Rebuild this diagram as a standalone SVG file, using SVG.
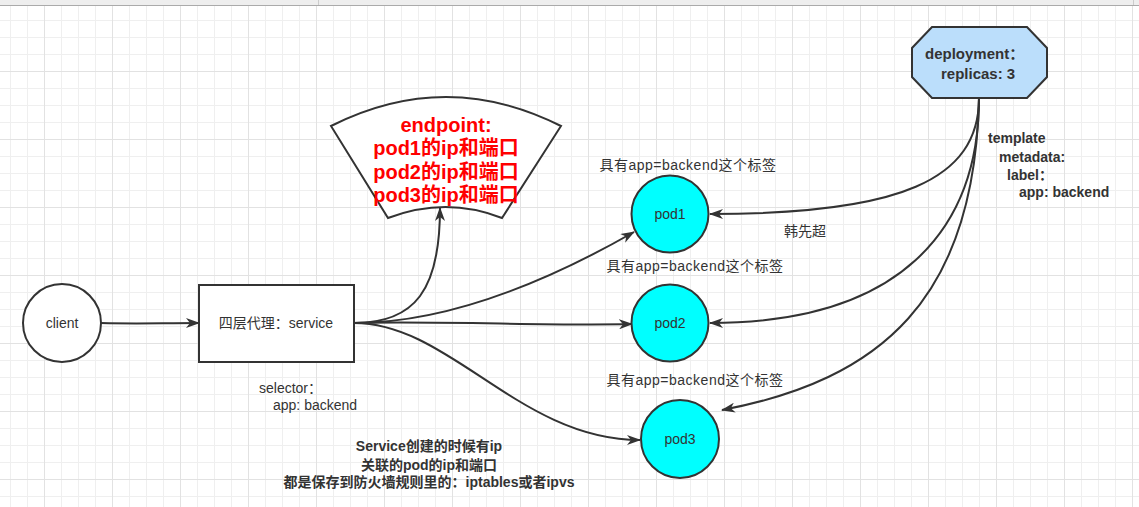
<svg xmlns="http://www.w3.org/2000/svg" width="1139" height="507" viewBox="0 0 1139 507">
<defs>
<pattern id="grid" x="44" y="3" width="68" height="68" patternUnits="userSpaceOnUse">
<path d="M17.5 0V68M34.5 0V68M51.5 0V68M0 17.5H68M0 34.5H68M0 51.5H68" stroke="#efefef" stroke-width="1" fill="none"/>
<path d="M0.5 0V68M0 0.5H68" stroke="#e2e2e2" stroke-width="1" fill="none"/>
</pattern>
<marker id="arr" viewBox="0 0 14 10" refX="13" refY="5" markerWidth="14" markerHeight="10" markerUnits="userSpaceOnUse" orient="auto">
<path d="M0 0L14 5L0 10L4 5z" fill="#333"/>
</marker>
</defs>
<style>
.t{font-family:"Liberation Sans","Noto Sans CJK SC",sans-serif;font-size:14px;fill:#333;dominant-baseline:central}
.b{font-weight:bold}
.c{text-anchor:middle}
.lbl{letter-spacing:0.5px}
.red{fill:#ff0000;font-size:20px;font-weight:bold}
.node{stroke:#333;stroke-width:2}
.pod{fill:#00ffff}
.edge{fill:none;stroke:#333;stroke-width:2;marker-end:url(#arr)}
</style>
<rect width="1139" height="507" fill="#fff"/>
<rect width="1139" height="507" fill="url(#grid)"/>
<rect x="0" y="0" width="1139" height="5" fill="#eeeeee"/>
<line x1="0" y1="5.5" x2="1139" y2="5.5" stroke="#aaa"/>
<line x1="318.5" y1="0" x2="318.5" y2="5" stroke="#ccc"/>
<line x1="1133.5" y1="0" x2="1133.5" y2="5" stroke="#ccc"/>

<g id="connectors">
<path class="edge" d="M101 323C140 324 160 323 199 323"/>
<path class="edge" d="M354 323C415 323 440 290 440 208"/>
<path class="edge" d="M354 323C450 323 550 280 634 232"/>
<path class="edge" d="M354 323C450 321 550 326 632 324"/>
<path class="edge" d="M354 323C450 323 520 440 640 440"/>
<path class="edge" d="M979 98C979 180 900 214 710 214"/>
<path class="edge" d="M979 98C979 230 900 323 710 323"/>
<path class="edge" d="M979 98C975 300 880 380 722 410"/>
</g>

<g id="client">
<circle class="node" cx="62" cy="323" r="39" fill="#fff"/>
<text class="t c" x="62" y="323">client</text>
</g>

<g id="service">
<rect class="node" x="199" y="285" width="155" height="77" fill="#fff"/>
<text class="t c" x="276" y="323">四层代理：service</text>
</g>

<g id="selector">
<text class="t" x="259" y="388">selector：</text>
<text class="t" x="273" y="405">app: backend</text>
</g>

<g id="endpoint">
<path class="node" d="M331 126Q446 68 561 126L502 218Q446 196 388 218Z" fill="#fff"/>
<text class="t c red" x="446" y="125">endpoint:</text>
<text class="t c red" x="446" y="148">pod1的ip和端口</text>
<text class="t c red" x="446" y="172">pod2的ip和端口</text>
<text class="t c red" x="446" y="195">pod3的ip和端口</text>
</g>

<g id="pod1">
<circle class="node pod" cx="670" cy="214" r="38.5"/>
<text class="t c" x="670" y="214">pod1</text>
<text class="t c lbl" x="688" y="165">具有app=backend这个标签</text>
</g>

<g id="pod2">
<circle class="node pod" cx="670" cy="323" r="38.5"/>
<text class="t c" x="670" y="323">pod2</text>
<text class="t c lbl" x="695" y="266">具有app=backend这个标签</text>
</g>

<g id="pod3">
<circle class="node pod" cx="680" cy="439" r="39"/>
<text class="t c" x="680" y="439">pod3</text>
<text class="t c lbl" x="695" y="380">具有app=backend这个标签</text>
</g>

<g id="edge-label">
<text class="t c" x="805" y="231">韩先超</text>
</g>

<g id="deployment">
<polygon class="node" points="932,27 1027,27 1047,48 1047,77 1027,98 932,98 912,77 912,48" fill="#bbdefb"/>
<text class="t b" x="925" y="53" style="font-size:15px">deployment：</text>
<text class="t b" x="941" y="73" style="font-size:15px">replicas: 3</text>
</g>

<g id="template">
<text class="t b" x="988" y="138">template</text>
<text class="t b" x="999" y="157">metadata:</text>
<text class="t b" x="1007" y="175">label：</text>
<text class="t b" x="1019" y="192">app: backend</text>
</g>

<g id="note">
<text class="t b c" x="429" y="446">Service创建的时候有ip</text>
<text class="t b c" x="429" y="465">关联的pod的ip和端口</text>
<text class="t b c" x="429" y="482">都是保存到防火墙规则里的：iptables或者ipvs</text>
</g>
</svg>
